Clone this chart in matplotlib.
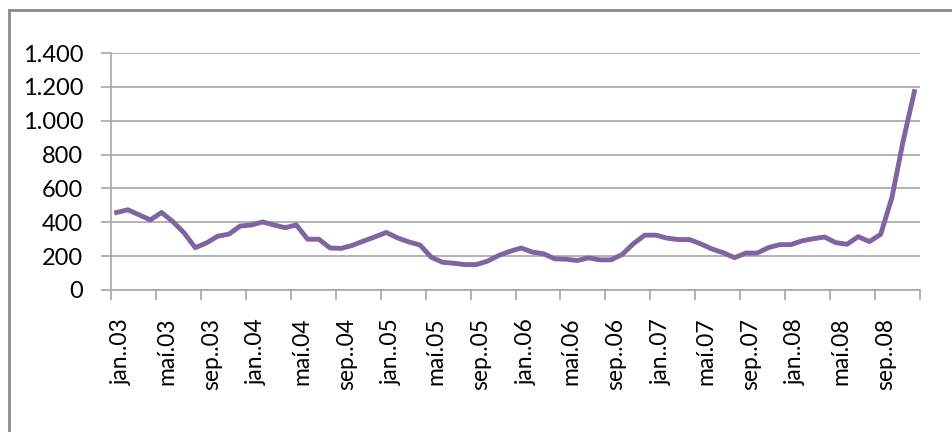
import matplotlib
matplotlib.use("Agg")
import matplotlib.pyplot as plt
from matplotlib.transforms import ScaledTranslation

plt.rcParams['font.family'] = ['Lato', 'DejaVu Sans']

# monthly values jan 2003 - dec 2008
values = [458, 474, 444, 414, 458, 404, 338, 250, 278, 318, 330, 378,
          384, 402, 384, 368, 384, 300, 300, 248, 246, 264, 290, 314,
          340, 308, 284, 266, 194, 164, 158, 150, 150, 170, 204, 228,
          248, 224, 214, 184, 182, 174, 190, 178, 178, 210, 274, 324,
          324, 306, 298, 298, 272, 242, 220, 191, 218, 218, 250, 268,
          268, 290, 303, 313, 280, 270, 315, 286, 329, 546, 880, 1172]
month_labels = ['jan..03', 'maí.03', 'sep..03', 'jan..04', 'maí.04', 'sep..04',
                'jan..05', 'maí.05', 'sep..05', 'jan..06', 'maí.06', 'sep..06',
                'jan..07', 'maí.07', 'sep..07', 'jan..08', 'maí.08', 'sep..08']
y_ticks = [0, 200, 400, 600, 800, 1000, 1200, 1400]
y_labels = ['0', '200', '400', '600', '800', '1.000', '1.200', '1.400']

W, H = 952, 432
fig = plt.figure(figsize=(W / 100, H / 100), dpi=100)
ax = fig.add_axes([111 / W, (H - 290) / H, (920 - 111) / W, (290 - 53) / H])

grey = '#a6a6a6'
x = list(range(len(values)))
ax.plot(x, values, color='#8064a2', lw=3.5, solid_joinstyle='round', zorder=3)

ax.set_xlim(-0.5, len(values) - 0.5)
ax.set_ylim(0, 1400)

ax.set_yticks(y_ticks)
ax.set_yticklabels(y_labels)
ax.yaxis.grid(True, color=grey, lw=1.2)
ax.set_axisbelow(True)

# tick marks between categories, labels on every 4th month
ax.set_xticks([i - 0.5 for i in range(0, len(values) + 1, 4)])
ax.set_xticklabels([])
ax.set_xticks(list(range(0, len(values), 4)), minor=True)
ax.set_xticklabels(month_labels, minor=True, rotation=90, va='top', ha='center')

ax.tick_params(axis='x', which='major', length=7, color=grey, width=1.2)
ax.tick_params(axis='x', which='minor', length=0, pad=20, labelsize=16.5)
ax.tick_params(axis='y', length=7, color=grey, width=1.2, pad=13, labelsize=17)
for lbl in ax.get_xticklabels(minor=True):
    lbl.set_transform(lbl.get_transform() + ScaledTranslation(0.05, 0, fig.dpi_scale_trans))

for s in ['top', 'right']:
    ax.spines[s].set_visible(False)
for s in ['left', 'bottom']:
    ax.spines[s].set_color(grey)
    ax.spines[s].set_linewidth(1.2)

# outer chart border (only left and top are inside the picture)
fig.add_artist(plt.Line2D([9 / W, 9 / W], [0, (H - 10) / H], color='#8c8c8c', lw=2))
fig.add_artist(plt.Line2D([9 / W, 1], [(H - 10) / H, (H - 10) / H], color='#8c8c8c', lw=2))

fig.savefig('out.png', dpi=100)
